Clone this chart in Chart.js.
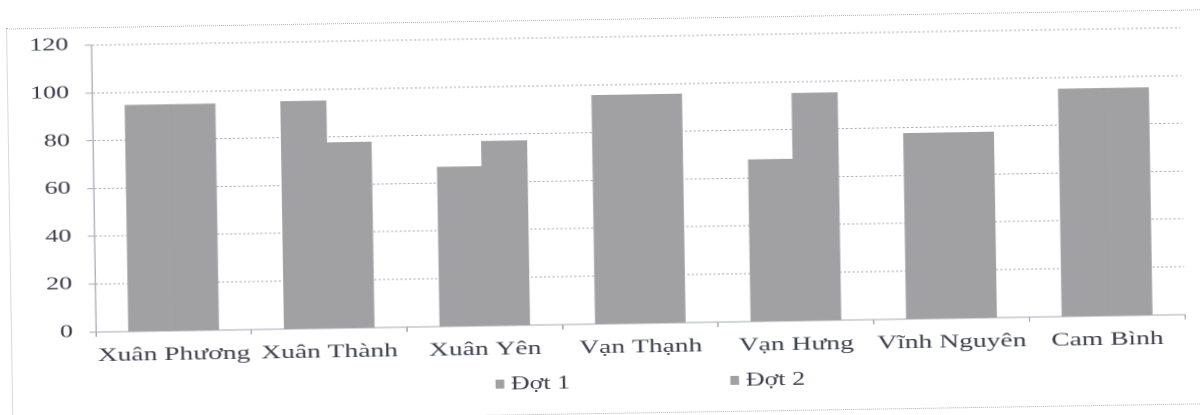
<!DOCTYPE html>
<html lang="vi">
<head>
<meta charset="utf-8">
<title>Đợt 1 - Đợt 2</title>
<script src="https://cdn.jsdelivr.net/npm/chart.js@4.4.1/dist/chart.umd.min.js"></script>
<style>
  html, body { margin: 0; background: #fff; overflow: hidden; }
  /* the scan is tilted a little and stretched sideways */
  #page { position: relative; width: 1200px; height: 415px; transform: rotate(-0.92deg); transform-origin: 600px 207px; }
  #frame { position: absolute; left: 9px; top: 19px; width: 1200px; height: 393px; border: 1px dotted #aeb2bd; }
  #stretch { position: absolute; left: 0; top: 0; width: 828px; height: 415px; transform: scaleX(1.4493); transform-origin: 0 0; }
  #legend { position: absolute; left: 0; top: 372px; width: 828px; height: 20px; }
  .legend-item { position: absolute; top: 0; display: flex; align-items: center; height: 20px;
    font: 18px "Liberation Serif", "Times New Roman", serif; color: #3b3f4c; white-space: nowrap; }
  .legend-box { width: 6.2px; height: 9px; margin-right: 4.8px; }
</style>
</head>
<body>
<div id="page">
  <div id="frame"></div>
  <div id="stretch">
    <canvas id="dotChart" width="828" height="415"></canvas>
    <div id="legend"></div>
  </div>
</div>

<script>
// DATA
const categories = ['Xuân Phương', 'Xuân Thành', 'Xuân Yên', 'Vạn Thạnh', 'Vạn Hưng', 'Vĩnh Nguyên', 'Cam Bình'];
const dot1 = [94.5, 95, 66.5, 95.5, 67.5, 77.5, 95];
const dot2 = [94.5, 77.5, 77, 95.5, 95, 77.5, 95];
const seriesNames = ['Đợt 1', 'Đợt 2'];
const yTicks = [0, 20, 40, 60, 80, 100, 120];

const barColor = '#a1a1a3';
const gridColor = '#a7abb8';
const textColor = '#3b3f4c';
const font = { family: '"Liberation Serif", "Times New Roman", serif', size: 18 };


// CHART
const ctx = document.getElementById('dotChart').getContext('2d');

const chart = new Chart(ctx, {
    type: 'bar',
    data: {
        labels: categories,
        datasets: [
            { label: seriesNames[0], data: dot1, backgroundColor: barColor },
            { label: seriesNames[1], data: dot2, backgroundColor: barColor }
        ]
    },
    options: {
        responsive: false,
        animation: false,
        devicePixelRatio: 2,
        layout: {
            padding: { top: 37, left: 10.7, right: 11.7, bottom: 47.8 }
        },
        datasets: {
            bar: { categoryPercentage: 0.572, barPercentage: 1.0, inflateAmount: 0.6 }
        },
        plugins: {
            legend: { display: false },
            tooltip: { enabled: false }
        },
        scales: {
            x: {
                grid: { display: true, drawOnChartArea: false, tickLength: 5, color: gridColor },
                border: { color: gridColor },
                ticks: {
                    color: textColor,
                    padding: 7.8,
                    font: { ...font, size: 19 },
                    autoSkip: false,
                    maxRotation: 0,
                    minRotation: 0
                }
            },
            y: {
                min: 0,
                max: 120,
                afterBuildTicks: scale => {
                    scale.ticks = yTicks.map(v => ({ value: v }));
                },
                grid: { color: gridColor, tickLength: 4.5 },
                border: { color: '#b4b6bf', dash: [1.5, 1.5] },
                ticks: { color: textColor, padding: 11.3, font }
            }
        }
    }
});


// LEGEND
const legendLeft = [339.5, 501.6];
const legendDiv = document.getElementById('legend');

chart.data.datasets.forEach((ds, i) => {
    const item = document.createElement('div');
    item.className = 'legend-item';
    item.style.left = legendLeft[i] + 'px';
    item.innerHTML = `<span class="legend-box" style="background:${ds.backgroundColor}"></span>${ds.label}`;
    legendDiv.appendChild(item);
});
</script>
</body>
</html>
